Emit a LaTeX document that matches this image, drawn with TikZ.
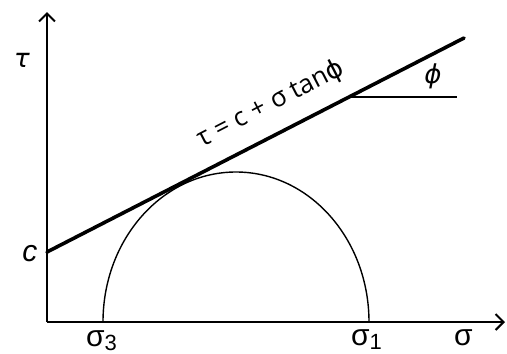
\documentclass[tikz,border=0pt]{standalone}
\usepackage{fontspec}
\setmainfont{Liberation Sans}
\newfontfamily\eqf{Open Sans}
\newfontfamily\dv{DejaVu Sans}
\usetikzlibrary{arrows.meta}
\begin{document}
\begin{tikzpicture}[x=1pt,y=-1pt,
  axis/.style={line width=2pt,-{Straight Barb[length=8pt,width=16pt,line width=2pt]}},
  envelope/.style={line width=3.6pt,line cap=round},
  thin/.style={line width=1.4pt},
  lbl/.style={inner sep=0pt,font=\fontsize{30}{32}\selectfont},
  eqlbl/.style={inner sep=0pt,font=\eqf\fontsize{26}{28}\selectfont}]
\useasboundingbox (0,0) rectangle (507,354);
\coordinate (O) at (47,322);
\coordinate (ytop) at (47,12);
\coordinate (xend) at (505,322);
\coordinate (cpt) at (47,252);
\coordinate (lend) at (464,38);
\coordinate (s3) at (103,322);
\coordinate (s1) at (369,322);
\coordinate (h0) at (350,97);
\coordinate (h1) at (457,97);
\draw[axis] (O) -- (ytop);
\draw[axis] (O) -- (xend);
\draw[thin] (s1) arc[start angle=0,end angle=180,x radius=133pt,y radius=150pt];
\draw[envelope] (cpt) -- (lend);
\draw[thin] (h0) -- (h1);
\node[lbl] (tau) at (22,60) {\dv\itshape\fontsize{26}{28}\selectfont τ};
\node[lbl] (c) at (30,254) {\itshape c};
\node[lbl,anchor=base west] (sig3) at (86,346) {σ\raisebox{-0.3ex}{\fontsize{22}{24}\selectfont 3}};
\node[lbl,anchor=base west] (sig1) at (351,345) {σ\raisebox{-0.3ex}{\fontsize{22}{24}\selectfont 1}};
\node[lbl,anchor=base west] (sig) at (454,345) {σ};
\node[lbl] (phi) at (433,76) {\dv\itshape\fontsize{26}{28}\selectfont ϕ};
\node[eqlbl,rotate=27.3] (eq) at (271,104) {τ = c + σ tan{\dv ϕ}};
\end{tikzpicture}
\end{document}
